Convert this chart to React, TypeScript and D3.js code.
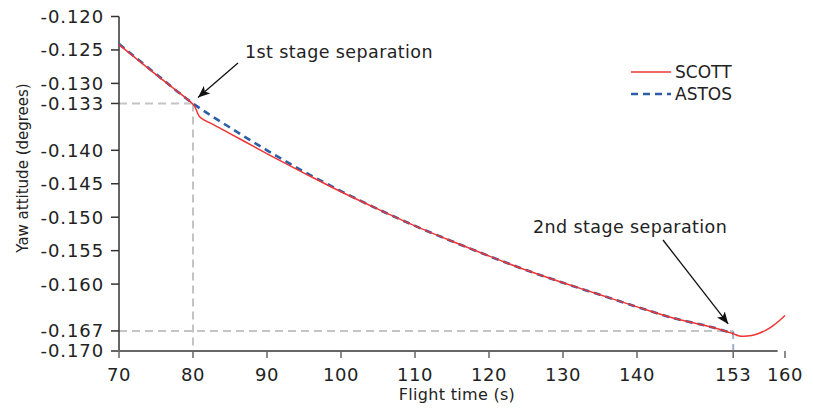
import React from "react";
import * as d3 from "d3";

const xTicks = [70, 80, 90, 100, 110, 120, 130, 140, 153, 160];
const yTicks = [-0.12, -0.125, -0.13, -0.133, -0.14, -0.145, -0.15, -0.155, -0.16, -0.167, -0.17];

const astosT = [70, 75, 80, 85, 90, 95, 100, 105, 110, 115, 120, 125, 130, 135, 140, 145, 150, 153];
const astosV = [-0.1241, -0.1286, -0.133, -0.1366, -0.14, -0.1432, -0.1461, -0.1488, -0.1513, -0.1536, -0.1558, -0.1579, -0.1598, -0.1616, -0.1634, -0.1651, -0.1664, -0.1674];

const scottT = [70, 75, 80, 80.3, 80.6, 80.9, 81.4, 83, 85, 88, 91, 95, 100, 105, 110, 115, 120, 125, 130, 135, 140, 145, 150, 153, 153.7, 154.4, 155.5, 156.6, 157.5, 158.4, 159.3, 160];
const scottV = [-0.1242, -0.1287, -0.1331, -0.1336, -0.1344, -0.135, -0.1354, -0.1363, -0.1375, -0.1393, -0.1411, -0.1434, -0.1462, -0.1488, -0.1513, -0.1536, -0.1558, -0.1579, -0.1598, -0.1616, -0.1634, -0.1651, -0.1664, -0.1674, -0.16772, -0.1678, -0.16768, -0.16732, -0.16684, -0.1662, -0.1654, -0.1647];

const seriesNames = ["SCOTT", "ASTOS"];
const sep1 = { t: 80, v: -0.133, label: "1st stage separation" };
const sep2 = { t: 153, v: -0.167, label: "2nd stage separation" };

const FONT = "'DejaVu Sans', sans-serif";
const RED = "#ef3434";
const BLUE = "#2c5ea8";
const GRAY = "#c4c4c4";

export default function App() {
  const x = d3.scaleLinear().domain([70, 160]).range([119, 785]);
  const y = d3.scaleLinear().domain([-0.12, -0.17]).range([16.5, 351]);

  const line = d3
    .line<[number, number]>()
    .x((d) => x(d[0]))
    .y((d) => y(d[1]))
    .curve(d3.curveCatmullRom.alpha(0.5));

  const astos = astosT.map((t, i) => [t, astosV[i]] as [number, number]);
  const scott = scottT.map((t, i) => [t, scottV[i]] as [number, number]);

  const x0 = x(70);
  const yBot = y(-0.17);

  return (
    <svg
      width={813}
      height={408}
      style={{ position: "absolute", left: 0, top: 0, background: "#fff" }}
      fontFamily={FONT}
    >
      <defs>
        <marker id="arr" viewBox="0 0 12 10" refX="12" refY="5" markerWidth="12" markerHeight="10" markerUnits="userSpaceOnUse" orient="auto">
          <path d="M0,0 L12,5 L0,10 L3,5 z" fill="#111" />
        </marker>
      </defs>

      {/* reference dashed lines */}
      <g stroke={GRAY} strokeWidth={2} strokeDasharray="8,5" fill="none">
        <line x1={x0} x2={x(sep1.t)} y1={y(sep1.v)} y2={y(sep1.v)} />
        <line x1={x(sep1.t)} x2={x(sep1.t)} y1={y(sep1.v)} y2={yBot} />
        <line x1={x0} x2={x(sep2.t)} y1={y(sep2.v)} y2={y(sep2.v)} />
        <line x1={x(sep2.t)} x2={x(sep2.t)} y1={y(sep2.v)} y2={yBot} stroke="#9fb0c8" />
      </g>

      {/* y axis */}
      <g stroke="#333" strokeWidth={1.5}>
        <line x1={x0} x2={x0} y1={y(-0.12)} y2={yBot} />
        {yTicks.map((v) => (
          <line key={v} x1={x0 - 8} x2={x0} y1={y(v)} y2={y(v)} />
        ))}
      </g>
      {yTicks.map((v) => (
        <text key={v} x={104} y={y(v)} dy="0.36em" textAnchor="end" fontSize={18} letterSpacing={0.9} fill="#222">
          {d3.format(".3f")(v).replace("−", "-")}
        </text>
      ))}

      {/* x axis */}
      <g stroke="#666" strokeWidth={2}>
        <line x1={x0 - 8} x2={x(159)} y1={yBot} y2={yBot} />
        {xTicks.map((t) => (
          <line key={t} x1={x(t)} x2={x(t)} y1={yBot} y2={yBot + 7} strokeWidth={1.5} />
        ))}
      </g>
      {xTicks.map((t) => (
        <text key={t} x={x(t)} y={381} textAnchor="middle" fontSize={18} letterSpacing={0.6} fill="#222">
          {t}
        </text>
      ))}

      <text x={457} y={400} textAnchor="middle" fontSize={16} letterSpacing={0.3} fill="#222">
        Flight time (s)
      </text>
      <text transform="translate(28,168) rotate(-90)" textAnchor="middle" fontSize={15} fill="#222">
        Yaw attitude (degrees)
      </text>

      {/* series */}
      <path d={line(astos) || ""} fill="none" stroke={BLUE} strokeWidth={2.6} strokeDasharray="7,5" />
      <path d={line(scott) || ""} fill="none" stroke={RED} strokeWidth={1.5} />

      {/* legend */}
      <line x1={631} x2={671} y1={72} y2={72} stroke={RED} strokeWidth={1.5} />
      <text x={675} y={78} fontSize={17} fill="#222">{seriesNames[0]}</text>
      <line x1={631} x2={671} y1={94} y2={94} stroke={BLUE} strokeWidth={2.6} strokeDasharray="7,5" />
      <text x={675} y={100} fontSize={17} fill="#222">{seriesNames[1]}</text>

      {/* annotations */}
      <line x1={238} y1={63} x2={x(sep1.t) + 5} y2={y(sep1.v) - 6} stroke="#111" strokeWidth={1.3} markerEnd="url(#arr)" />
      <text x={245} y={58} fontSize={17.5} letterSpacing={0.4} fill="#222">{sep1.label}</text>
      <line x1={663} y1={240} x2={x(sep2.t) - 5} y2={y(sep2.v) - 7} stroke="#111" strokeWidth={1.3} markerEnd="url(#arr)" />
      <text x={533} y={233} fontSize={17.5} letterSpacing={0.4} fill="#222">{sep2.label}</text>
    </svg>
  );
}
